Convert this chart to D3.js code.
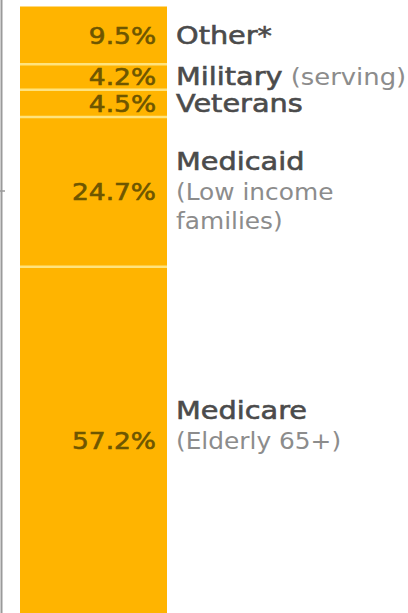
<!DOCTYPE html>
<html>
<head>
<meta charset="utf-8">
<script src="https://cdn.jsdelivr.net/npm/d3@7"></script>
<style>
  html, body { margin: 0; padding: 0; background: #fff; }
  svg { display: block; }
</style>
</head>
<body>
<svg id="chart" width="408" height="613"></svg>
<script>
// Who pays for US health care: shares by programme, stacked top to bottom
const categories = ["Other*", "Military", "Veterans", "Medicaid", "Medicare"];
const shares = [9.5, 4.2, 4.5, 24.7, 57.2];
const inlineNotes = ["", "(serving)", "", "", ""];
const noteLines = [[], [], [], ["(Low income", "families)"], ["(Elderly 65+)"]];
const shareLabels = ["9.5%", "4.2%", "4.5%", "24.7%", "57.2%"];

const W = 408, H = 613;
const svg = d3.select("#chart");

// running totals for the stack
let acc = 0;
const segs = categories.map((c, i) => {
  const s = { cat: c, v: shares[i], y0: acc, y1: acc + shares[i], i };
  acc += shares[i];
  return s;
});

const y = d3.scaleLinear().domain([0, acc]).range([6.5, 614]);
const x = d3.scaleBand().domain(["total"]).range([20, 167]).padding(0);

// frame line on the left
svg.append("line")
  .attr("x1", 1.5).attr("x2", 1.5).attr("y1", 0).attr("y2", H)
  .attr("stroke", "#9a9a9a").attr("stroke-width", 2);
svg.append("line")
  .attr("x1", 0).attr("x2", 5).attr("y1", 191).attr("y2", 191)
  .attr("stroke", "#9a9a9a").attr("stroke-width", 1.5);

// segments
svg.append("g").selectAll("rect")
  .data(segs).join("rect")
  .attr("x", x("total"))
  .attr("width", x.bandwidth())
  .attr("y", d => y(d.y0))
  .attr("height", d => y(d.y1) - y(d.y0))
  .attr("fill", "#ffb400");

// pale dividers between segments
svg.append("g").selectAll("line")
  .data(segs.slice(1)).join("line")
  .attr("x1", x("total")).attr("x2", x("total") + x.bandwidth())
  .attr("y1", d => y(d.y0)).attr("y2", d => y(d.y0))
  .attr("stroke", "#ffe37e").attr("stroke-width", 2.5);

const font = "'DejaVu Sans', Verdana, sans-serif";
const right = x("total") + x.bandwidth();
const stretch = 1.15; // wide lettering

const lab = svg.append("g").selectAll("g")
  .data(segs).join("g")
  .attr("transform", d => `translate(0,${(y(d.y0) + y(d.y1)) / 2 + 8.5})`);

// percentage inside the bar
lab.append("text")
  .attr("transform", `translate(${right - 11},0) scale(${stretch},1)`)
  .attr("text-anchor", "end")
  .attr("font-family", font)
  .attr("font-size", 23)
  .attr("fill", "#6e5600")
  .attr("stroke", "#6e5600").attr("stroke-width", 0.6)
  .text((d, i) => shareLabels[i]);

// programme name (raised when notes follow on extra lines)
const name = lab.append("text")
  .attr("transform", (d, i) =>
    `translate(${right + 9},${noteLines[i].length ? -30 : 0}) scale(${stretch},1)`)
  .attr("font-family", font)
  .attr("font-size", 25);
name.append("tspan")
  .attr("fill", "#4b4b4b")
  .attr("stroke", "#4b4b4b").attr("stroke-width", 0.6)
  .text(d => d.cat);
name.append("tspan")
  .attr("font-size", 22.5)
  .attr("fill", "#8c8c8c")
  .text((d, i) => inlineNotes[i] ? " " + inlineNotes[i] : "");

// notes on following lines
lab.each(function (d, i) {
  d3.select(this).selectAll("text.note")
    .data(noteLines[i]).join("text")
    .attr("class", "note")
    .attr("transform", (t, k) => `translate(${right + 9},${k * 29}) scale(${stretch * 0.96},1)`)
    .attr("font-family", font)
    .attr("font-size", 22.5)
    .attr("fill", "#8c8c8c")
    .text(t => t);
});
</script>
</body>
</html>
